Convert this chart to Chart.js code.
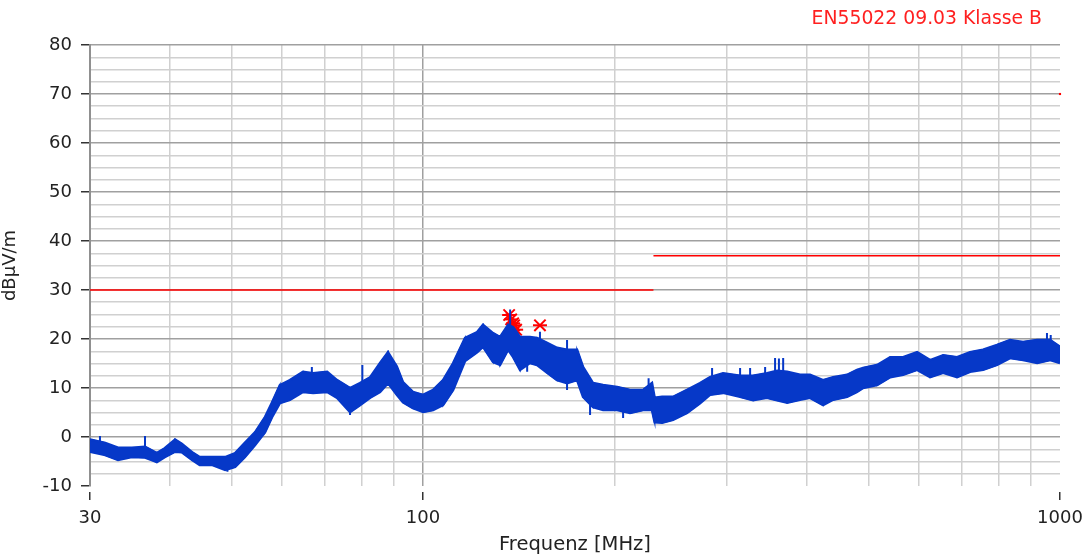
<!DOCTYPE html>
<html>
<head>
<meta charset="utf-8">
<script src="https://cdn.jsdelivr.net/npm/chart.js@4.4.1/dist/chart.umd.min.js"></script>
<style>
  html, body { margin: 0; padding: 0; background: #fff; }
  #wrap { width: 1086px; height: 558px; position: relative; }
</style>
</head>
<body>
<div id="wrap"><canvas id="emiChart"></canvas></div>
<script>
// EN55022 radiated emission scan, 30 MHz - 1 GHz

const titleText = 'EN55022 09.03 Klasse B';

// measured trace, upper and lower edge of the noisy band (dBµV/m)
const traceFreq = [30, 31.7, 33.2, 34.9, 36.6, 37.5, 38.2, 39.3, 40.8, 41.8, 43.4, 44.6, 46.6, 48.9, 50.7, 52.5, 54.5, 56.5, 57.9, 59.6, 61.8, 64.8, 67.2, 70.7, 73.3, 76.8, 79.6, 82.6, 85.6, 88.1, 91, 93, 96.4, 100, 103.7, 107.5, 111.5, 116.4, 121.6, 124.2, 128.8, 132.1, 136, 138.5, 142, 147.2, 151, 156.6, 162.3, 168.3, 174.5, 178.3, 184.9, 191.7, 201.7, 211.3, 221.5, 228.8, 231, 237.3, 246.9, 259.7, 272.2, 282.2, 295.8, 314.6, 329.7, 346.8, 359.7, 372.9, 390.7, 405.1, 424.7, 440.4, 463.2, 480.1, 490.7, 516.2, 541.2, 567.1, 596.6, 625.3, 655.4, 689.3, 722.4, 757.1, 796.5, 834.8, 875, 920.6, 964.9, 1000];
const traceHigh = [-0.5, -1.2, -2.2, -2.2, -2.0, -2.7, -3.3, -2.3, -0.5, -1.4, -3.1, -4.1, -4.1, -4.1, -3.3, -1.2, 1.0, 4.1, 7.0, 10.6, 11.6, 13.3, 13.0, 13.3, 11.6, 10.0, 11.0, 12.2, 15.1, 17.3, 14.3, 11.2, 9.2, 8.6, 9.6, 11.6, 15.1, 20.2, 21.4, 22.9, 21.2, 20.4, 22.9, 22.4, 20.4, 20.4, 20.2, 19.2, 18.2, 17.8, 17.8, 14.3, 11.0, 10.6, 10.2, 9.6, 9.6, 11.0, 8.0, 8.2, 8.2, 9.6, 11.0, 12.2, 13.0, 12.5, 12.5, 13.0, 13.5, 13.3, 12.7, 12.7, 11.6, 12.2, 12.7, 13.7, 14.1, 14.7, 16.3, 16.3, 17.3, 15.7, 16.7, 16.3, 17.3, 17.8, 18.8, 19.8, 19.4, 19.8, 19.8, 18.4];
const traceLow = [-3.0, -3.7, -4.7, -4.1, -4.2, -4.7, -5.1, -4.1, -3.0, -3.1, -4.7, -5.7, -5.7, -6.7, -6.1, -4.1, -1.6, 1.0, 4.0, 6.9, 7.6, 9.2, 9.0, 9.2, 8.0, 5.1, 6.5, 8.0, 9.2, 11.0, 8.6, 7.1, 5.9, 5.1, 5.5, 6.5, 9.6, 15.5, 17.3, 18.4, 15.3, 14.7, 17.8, 16.3, 13.7, 15.1, 14.7, 13.1, 11.6, 11.0, 11.6, 8.2, 6.1, 5.5, 5.5, 4.9, 5.5, 5.5, 3.0, 2.9, 3.5, 4.9, 6.9, 8.6, 9.0, 8.2, 7.5, 8.0, 7.5, 7.0, 7.6, 8.0, 6.5, 7.6, 8.2, 9.2, 10.0, 10.6, 12.2, 12.7, 13.7, 12.2, 13.1, 12.2, 13.3, 13.7, 14.7, 16.1, 15.7, 15.1, 15.7, 15.1];

// single spikes sticking out of the band
const spikeFreq = [31.1, 36.6, 49.3, 66.9, 76.8, 80.3, 88.1, 137, 145.7, 152.6, 168.3, 182.9, 206.1, 226, 284.3, 314.6, 326.2, 344.4, 357, 362, 367.6, 954, 967];
const spikeBase = [-2.0, -2.5, -5.0, 11.0, 7.0, 10.0, 14.0, 21.0, 16.0, 18.0, 9.6, 7.0, 6.0, 9.0, 11.0, 11.0, 11.0, 11.0, 12.0, 12.0, 12.0, 17.0, 17.0];
const spikeTop = [0.2, 0.2, -7.1, 14.3, 4.5, 14.7, 17.6, 26.0, 13.3, 21.5, 19.8, 4.5, 3.9, 12.0, 14.1, 14.1, 14.1, 14.3, 16.1, 16.0, 16.1, 21.2, 20.8];

// limit lines
const limitFreq = [30, 230, null, 230, 1000];
const limitLevel = [30, 30, null, 37, 37];
const limitDotFreq = [1000];
const limitDotLevel = [70];

// peak markers
const markerFreq = [136.5, 137.5, 138.5, 139.0, 140.0, 152.6];
const markerLevel = [24.9, 24.0, 23.2, 22.8, 21.9, 22.8];

// axes
const xGridValues = [30, 40, 50, 60, 70, 80, 90, 100, 200, 300, 400, 500, 600, 700, 800, 900, 1000];
const xLabelValues = [30, 100, 1000];
const yMin = -10, yMax = 80, yStep = 2.5;

const blue = '#0638c8';
const red = '#ff0000';

const pts = (xs, ys) => xs.map((x, i) => (x === null ? { x: NaN, y: null } : { x: x, y: ys[i] }));

const zigzag = [];
traceFreq.forEach((f, i) => {
    if (i % 2 === 0) {
        zigzag.push({ x: f, y: traceLow[i] }, { x: f, y: traceHigh[i] });
    } else {
        zigzag.push({ x: f, y: traceHigh[i] }, { x: f, y: traceLow[i] });
    }
});

const spikes = [];
spikeFreq.forEach((f, i) => {
    spikes.push({ x: f, y: spikeBase[i] }, { x: f, y: spikeTop[i] }, { x: f, y: null });
});

const cornerTitle = {
    id: 'cornerTitle',
    afterDraw(chart) {
        const ctx = chart.ctx;
        ctx.save();
        ctx.font = '18.8px "DejaVu Sans"';
        ctx.fillStyle = '#ff2020';
        ctx.textAlign = 'right';
        ctx.textBaseline = 'middle';
        ctx.fillText(titleText, chart.chartArea.right - 18, 19);
        ctx.restore();
    }
};

Chart.defaults.font.family = '"DejaVu Sans", sans-serif';
Chart.defaults.font.size = 18;
Chart.defaults.color = '#222';

const lineBase = { pointRadius: 0, tension: 0, spanGaps: false };

new Chart(document.getElementById('emiChart'), {
    type: 'line',
    data: {
        datasets: [
            { ...lineBase, data: pts(traceFreq, traceHigh), borderColor: blue, borderWidth: 2.5,
              backgroundColor: blue, fill: '+1' },
            { ...lineBase, data: pts(traceFreq, traceLow), borderColor: blue, borderWidth: 2.5 },
            { ...lineBase, data: zigzag, borderColor: blue, borderWidth: 1.5 },
            { ...lineBase, data: spikes, borderColor: blue, borderWidth: 2 },
            { ...lineBase, data: pts(limitFreq, limitLevel), borderColor: red, borderWidth: 1.5 },
            { data: pts(limitDotFreq, limitDotLevel), showLine: false, pointStyle: 'rect',
              pointRadius: 1.5, pointBackgroundColor: red, pointBorderWidth: 0, clip: false },
            { data: pts(markerFreq, markerLevel), showLine: false, pointStyle: 'crossRot',
              pointRadius: 8, pointBorderColor: red, pointBorderWidth: 2 },
            { data: pts(markerFreq, markerLevel), showLine: false, pointStyle: 'line',
              pointRadius: 7, pointBorderColor: red, pointBorderWidth: 2 }
        ]
    },
    options: {
        responsive: true,
        maintainAspectRatio: false,
        animation: false,
        layout: { padding: { top: 45, right: 26, left: 0, bottom: 0 } },
        plugins: { legend: { display: false }, tooltip: { enabled: false }, title: { display: false } },
        scales: {
            x: {
                type: 'logarithmic',
                min: 30,
                max: 1000,
                afterBuildTicks: s => { s.ticks = xGridValues.map(v => ({ value: v })); },
                afterFit: s => { s.height = 72; s.paddingLeft = 0; s.paddingRight = 0; },
                border: { display: false },
                grid: {
                    color: c => (c.tick.value === 100 ? '#a0a0a0' : (c.tick.value === 30 || c.tick.value === 1000 ? 'rgba(0,0,0,0)' : '#d0d0d0')),
                    lineWidth: 1.5,
                    tickLength: 14,
                    tickWidth: 1.5,
                    tickColor: c => (xLabelValues.includes(c.tick.value) ? '#333' : 'rgba(0,0,0,0)'),
                    tickBorderDash: [0, 6, 8, 100]
                },
                ticks: {
                    autoSkip: false,
                    maxRotation: 0,
                    padding: 8,
                    callback: v => (xLabelValues.includes(v) ? String(v) : '')
                },
                title: { display: true, text: 'Frequenz [MHz]', font: { size: 19.5 }, padding: { top: 0, bottom: 1 } }
            },
            y: {
                min: yMin,
                max: yMax,
                afterFit: s => { s.width = 90; },
                border: { display: true, color: '#909090', width: 2 },
                grid: {
                    color: c => (c.tick.value === yMin ? 'rgba(0,0,0,0)' : (c.tick.value % 10 === 0 ? '#a0a0a0' : '#d0d0d0')),
                    lineWidth: 1.5,
                    tickLength: 12,
                    tickWidth: 1.5,
                    tickColor: c => (c.tick.value % 10 === 0 ? '#333' : 'rgba(0,0,0,0)'),
                    tickBorderDash: [0, 3, 9, 100]
                },
                ticks: {
                    stepSize: yStep,
                    autoSkip: false,
                    padding: 6,
                    callback: v => (v % 10 === 0 ? String(v) : '')
                },
                title: { display: true, text: 'dBµV/m', padding: { top: 0, bottom: 0 } }
            }
        }
    },
    plugins: [cornerTitle]
});
</script>
</body>
</html>
